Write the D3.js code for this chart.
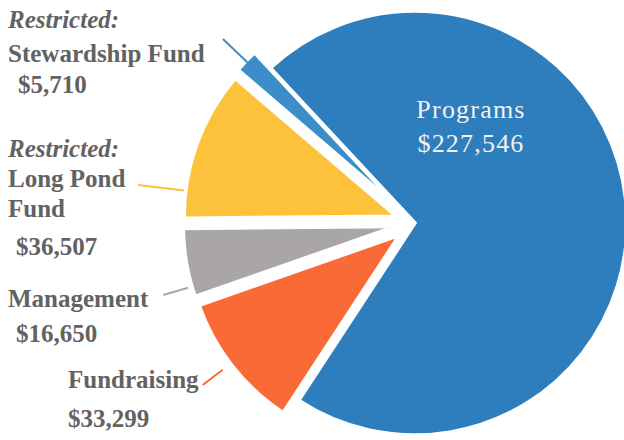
<!DOCTYPE html>
<html>
<head>
<meta charset="utf-8">
<script src="https://cdn.jsdelivr.net/npm/d3@7"></script>
<style>
  html, body { margin: 0; padding: 0; background: #fff; }
  svg { display: block; }
  text { font-family: "Liberation Serif", "DejaVu Serif", serif; }
</style>
</head>
<body>
<svg id="chart" width="624" height="440"></svg>
<script>
// ---- data ----
const categories = ["Programs", "Fundraising", "Management", "Long Pond Fund", "Stewardship Fund"];
const amounts = [227546, 33299, 16650, 36507, 5710];
const valueLabels = ["$227,546", "$33,299", "$16,650", "$36,507", "$5,710"];
const colors = ["#2e7dbd", "#f96a36", "#a9a6a5", "#fdc23b", "#3b8ec8"];

// ---- layout ----
const W = 624, H = 440;
const cx = 415, cy = 223, R = 212;
const deg = Math.PI / 180;
const explode = [0, 20, 20, 20, 22];
const leaderFrac = [null, 0.52, 0.15, 0.18, 0.5];
const leaderR = [null, [222, 247], [216, 242], [214, 260], [210, 244]];

const svg = d3.select("#chart");
const g = svg.append("g").attr("transform", `translate(${cx},${cy})`);

const table = categories.map((c, i) => ({ name: c, value: amounts[i], label: valueLabels[i], color: colors[i], i }));

const pie = d3.pie().sort(null).value(d => d.value)
  .startAngle(-43 * deg).endAngle(-43 * deg + 2 * Math.PI);
const arc = d3.arc().innerRadius(0).outerRadius(R);
const arcs = pie(table);

function offset(d) {
  const a = (d.startAngle + d.endAngle) / 2;
  const e = explode[d.data.i];
  return [Math.sin(a) * e, -Math.cos(a) * e];
}

const slice = g.selectAll("g.slice").data(arcs).join("g")
  .attr("class", "slice")
  .attr("transform", d => { const o = offset(d); return `translate(${o[0]},${o[1]})`; });

slice.append("path")
  .attr("d", arc)
  .attr("fill", d => d.data.color)
  .attr("stroke", "#fff")
  .attr("stroke-width", 3.5)
  .attr("stroke-linejoin", "miter");

// leader lines
slice.filter(d => d.data.i > 0).append("line")
  .each(function(d) {
    const i = d.data.i;
    const a = d.startAngle + leaderFrac[i] * (d.endAngle - d.startAngle);
    const [r1, r2] = leaderR[i];
    d3.select(this)
      .attr("x1", Math.sin(a) * r1).attr("y1", -Math.cos(a) * r1)
      .attr("x2", Math.sin(a) * r2).attr("y2", -Math.cos(a) * r2);
  })
  .attr("stroke", d => d.data.color)
  .attr("stroke-width", 2);

// ---- labels ----
const textColor = "#626262";
const fs = 25;
const labels = [
  { t: "Restricted:", x: 8, y: 28, it: true },
  { t: "Stewardship Fund", x: 8, y: 62 },
  { t: valueLabels[4], x: 18, y: 93 },
  { t: "Restricted:", x: 8, y: 157, it: true },
  { t: "Long Pond", x: 8, y: 187 },
  { t: "Fund", x: 8, y: 217 },
  { t: valueLabels[3], x: 16, y: 255 },
  { t: "Management", x: 8, y: 307 },
  { t: valueLabels[2], x: 16, y: 342 },
  { t: "Fundraising", x: 68, y: 388 },
  { t: valueLabels[1], x: 68, y: 427 }
];
svg.selectAll("text.lab").data(labels).join("text")
  .attr("class", "lab")
  .attr("x", d => d.x).attr("y", d => d.y)
  .attr("fill", textColor)
  .attr("font-size", fs)
  .attr("font-style", d => d.it ? "italic" : "normal")
  .attr("font-weight", "bold")
  .text(d => d.t);

svg.append("text").attr("x", 471).attr("y", 118).attr("text-anchor", "middle")
  .attr("fill", "#f2f2f2").attr("font-size", 26).attr("letter-spacing", 1.2).text(categories[0]);
svg.append("text").attr("x", 471).attr("y", 152).attr("text-anchor", "middle")
  .attr("fill", "#f2f2f2").attr("font-size", 26).attr("letter-spacing", 1.2).text(valueLabels[0]);
</script>
</body>
</html>
